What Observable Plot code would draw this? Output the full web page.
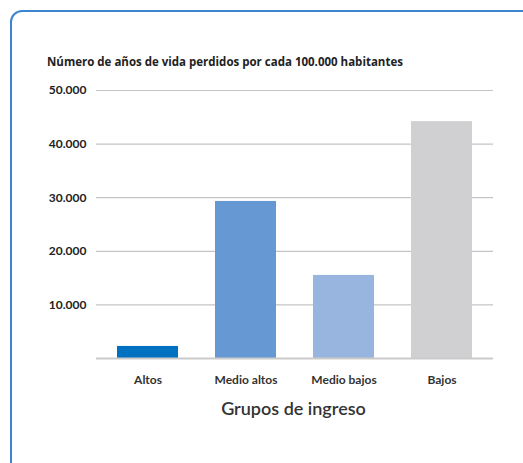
<!DOCTYPE html>
<html><head><meta charset="utf-8">
<script src="https://cdn.jsdelivr.net/npm/d3@7"></script>
<script src="https://cdn.jsdelivr.net/npm/@observablehq/plot@0.6"></script>
<style>
html,body{margin:0;padding:0;background:#fff;overflow:hidden;}
#wrap{position:relative;width:523px;height:463px;font-family:Lato,"Open Sans",sans-serif;}
#box{position:absolute;left:10px;top:10px;width:540px;height:480px;border:2px solid #3b86cf;border-radius:12px;box-sizing:border-box;}
#title{position:absolute;left:47px;top:54px;font-family:"Open Sans",sans-serif;font-size:11.5px;font-weight:700;color:#222;white-space:nowrap;}
#xlabel{position:absolute;left:0;width:587px;top:397px;text-align:center;font-size:18px;font-weight:600;color:#333;}
#chart{position:absolute;left:0;top:0;}
</style></head>
<body><div id="wrap"><div id="box"></div><div id="title">Número de años de vida perdidos por cada 100.000 habitantes</div><div id="chart"></div><div id="xlabel">Grupos de ingreso</div></div>
<script>
const categories = ["Altos", "Medio altos", "Medio bajos", "Bajos"];
const values = [2250, 29300, 15500, 44200];
const colors = ["#0070c0", "#6699d3", "#97b5df", "#d0d0d2"];
const yTicks = [10000, 20000, 30000, 40000, 50000];

const data = categories.map((c, i) => ({cat: c, val: values[i], color: colors[i]}));
const fmt = d => d3.format(",")(d).replace(/,/g, ".");

const plot = Plot.plot({
  width: 523, height: 463,
  marginTop: 90, marginBottom: 105, marginLeft: 96, marginRight: 30,
  style: {fontFamily: "Lato, 'Open Sans', sans-serif", background: "transparent", overflow: "visible"},
  x: {domain: categories, paddingInner: 0.378, paddingOuter: 0.21},
  y: {domain: [0, 50000]},
  marks: [
    Plot.ruleY(yTicks, {stroke: "#c4c4c4", strokeWidth: 1.2}),
    Plot.barY(data, {x: "cat", y: "val", fill: "color"}),
    Plot.ruleY([0], {stroke: "#cbcbcb", strokeWidth: 2}),
    Plot.axisY({ticks: yTicks, tickFormat: fmt, tickSize: 0, tickPadding: 10, label: null, fontSize: 12, fontWeight: 700, fill: "#222"}),
    Plot.axisX({tickSize: 0, tickPadding: 17, label: null, fontSize: 12, fontWeight: 700, fill: "#333"})
  ]
});
document.getElementById("chart").appendChild(plot);
</script></body></html>
